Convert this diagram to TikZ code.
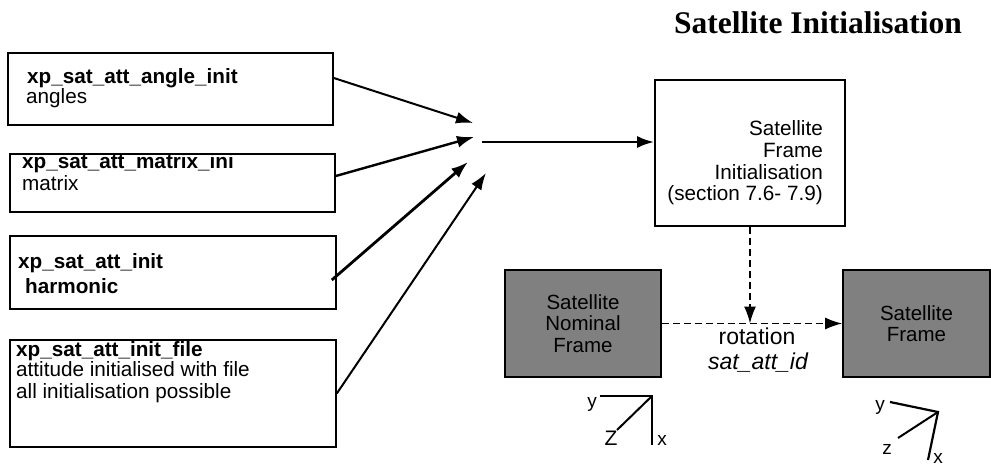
\documentclass[tikz,border=0pt]{standalone}
\usepackage{fontspec}
\setmainfont{Liberation Sans}
\newfontfamily\titlefont{Liberation Serif}
\usepackage{tikz}
\usetikzlibrary{arrows.meta,positioning,calc}
\definecolor{framegray}{RGB}{128,128,128}

\begin{document}
\begin{tikzpicture}[x=1pt,y=-1pt,
    fbox/.style={draw, line width=1.6pt, inner sep=0pt},
    gbox/.style={fbox, fill=framegray, align=center, font=\fontsize{20.5}{21.5}\selectfont},
    lbl/.style={anchor=base west, inner sep=0pt, font=\fontsize{20.7}{21}\selectfont},
    blbl/.style={anchor=base west, inner sep=0pt, font=\fontsize{20.7}{21}\selectfont\bfseries},
    axlbl/.style={inner sep=0pt, font=\fontsize{19}{19}\selectfont},
    arr/.style={-{Latex[length=17pt,width=12pt]}, line width=2pt},
    darr/.style={-{Latex[length=17pt,width=12pt]}, line width=1.7pt, dash pattern=on 7pt off 4pt}]
        \useasboundingbox (0,0) rectangle (991,466);

        \node[anchor=base, inner sep=0pt, font=\titlefont\bfseries\fontsize{31.5}{31.5}\selectfont] (title) at (818,33) {Satellite Initialisation};

        % init functions
        \node[fbox, minimum width=325pt, minimum height=72pt] (angle) at (170.5,89) {};
        \node[fbox, minimum width=325pt, minimum height=58pt] (matrix) at (172.5,183) {};
        \node[fbox, minimum width=326pt, minimum height=73pt] (harm) at (173,272.5) {};
        \node[fbox, minimum width=326pt, minimum height=107pt] (file) at (173,393.5) {};

        \node[blbl] (angleN) at (27,83) {xp\_sat\_att\_angle\_init};
        \node[lbl] (angleD) at (26,103) {angles};
        \node[blbl] (matrixN) at (22,168) {xp\_sat\_att\_matrix\_ini};
        \node[lbl] (matrixD) at (22,190) {matrix};
        \node[blbl] (harmN) at (18,268) {xp\_sat\_att\_init};
        \node[blbl] (harmD) at (25,293) {harmonic};
        \node[blbl] (fileN) at (16,356) {xp\_sat\_att\_init\_file};
        \node[lbl] (fileD) at (16,376) {attitude initialised with file};
        \node[lbl] (fileE) at (16,398) {all initialisation possible};

        % frames
        \node[fbox, minimum width=190pt, minimum height=146pt] (init) at (750,153) {};
        \node[anchor=east, align=right, inner sep=0pt, font=\fontsize{20.7}{21.7}\selectfont] (initT) at (823,163) {Satellite\\Frame\\Initialisation\\(section 7.6- 7.9)};

        \node[gbox, minimum width=156pt, minimum height=107pt] (nominal) at (583,323.5) {Satellite\\Nominal\\Frame};
        \node[gbox, minimum width=147pt, minimum height=107pt] (satframe) at (916.5,323.5) {Satellite\\Frame};

        \node[anchor=base, inner sep=0pt, font=\fontsize{23}{23}\selectfont] (rot) at (757,344) {rotation};
        \node[anchor=base, inner sep=0pt, font=\fontsize{23}{23}\selectfont\itshape] (rotid) at (758,369) {sat\_att\_id};

        % arrows
        \coordinate (inA) at (473,123);
        \coordinate (inB) at (474,137);
        \coordinate (inC) at (468,162);
        \coordinate (inD) at (486,173);
        \coordinate (hub) at (482,142);

        \draw[arr] ([yshift=11pt]angle.east) -- (inA);
        \draw[arr, line width=2.4pt] ([yshift=7pt]matrix.east) -- (inB);
        \draw[arr, line width=2.8pt] ([xshift=-5pt,yshift=-7.5pt]harm.east) -- (inC);
        \draw[arr] (file.east) -- (inD);
        \draw[arr, line width=2.8pt] (hub) -- (hub -| init.west);

        \draw[darr] (init.south) -- (init.south |- nominal.east);
        \draw[darr] (nominal.east) -- (satframe.west);

        % axes
        \coordinate (nomO) at (652,396);
        \draw[line width=2.6pt] (600,396) -- (nomO) -- (652,445);
        \draw[line width=2pt] (nomO) -- (617,430);
        \node[axlbl] (nomY) at (592,404) {y};
        \node[axlbl, font=\fontsize{21}{21}\selectfont] (nomZ) at (611,438) {Z};
        \node[axlbl] (nomX) at (662,440) {x};

        \coordinate (satO) at (938,412);
        \draw[line width=2.2pt] (890,402) -- (satO) -- (928,460);
        \draw[line width=2pt] (satO) -- (898,438);
        \node[axlbl] (satY) at (880,407) {y};
        \node[axlbl] (satZ) at (887,449) {z};
        \node[axlbl] (satX) at (938,458) {x};
\end{tikzpicture}
\end{document}
